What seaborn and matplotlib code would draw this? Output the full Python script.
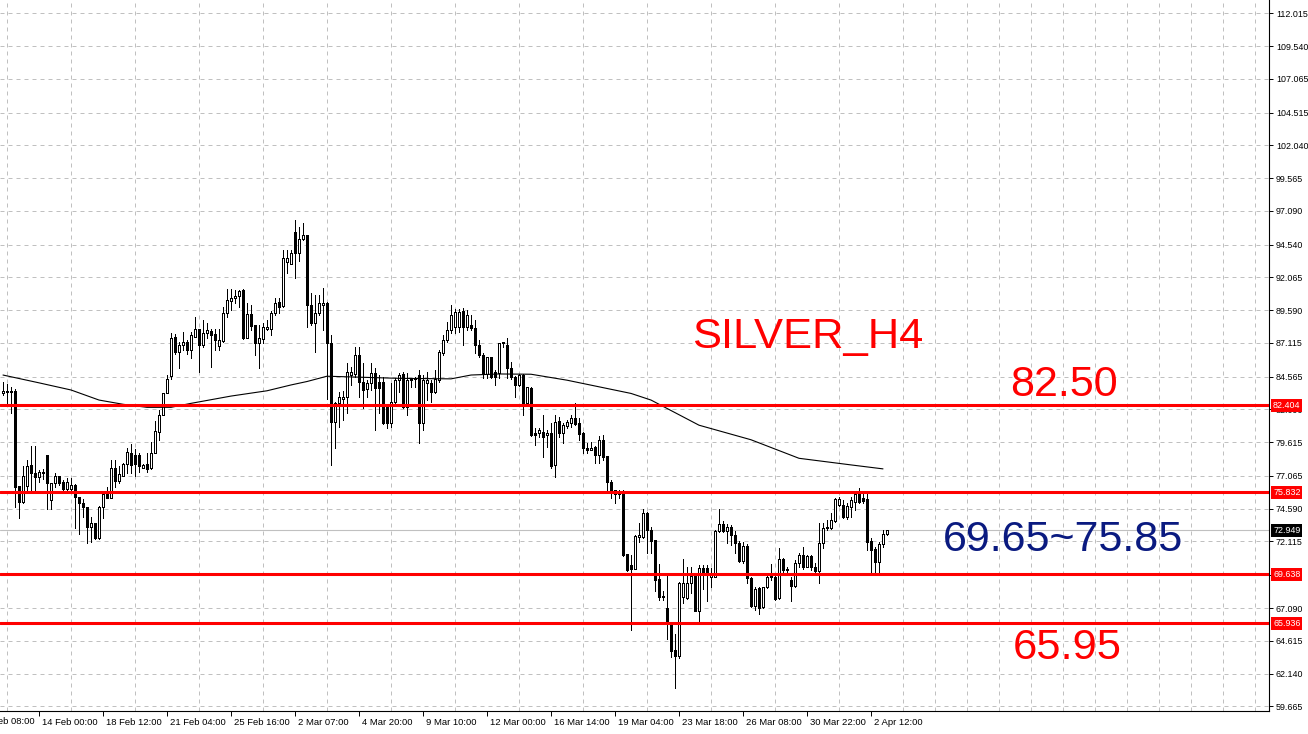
import numpy as np
import pandas as pd
import seaborn as sns
import matplotlib
matplotlib.use("Agg")
import matplotlib.pyplot as plt
import matplotlib.transforms as mtransforms

sns.set_theme(style="white")
plt.rcParams["font.family"] = ["Liberation Sans", "DejaVu Sans"]

# H4 candles, one row per bar (bar 0 = leftmost)
opens = [83.35, 83.5, 83.4, 83.5, 76.3, 75.1, 76.3, 77.9, 77.3, 77.0,
         77.3, 78.65, 75.25, 76.5, 77.1, 76.6, 76.1, 76.1, 76.4, 75.5,
         75.0, 74.75, 73.2, 73.5, 72.35, 74.7, 75.7, 75.4, 77.7, 76.7,
         77.1, 78.0, 78.8, 78.65, 78.65, 77.7, 77.95, 77.65, 78.8, 80.4,
         81.7, 83.3, 84.6, 87.6, 86.4, 86.95, 87.2, 86.6, 87.6, 88.15,
         86.95, 87.85, 88.05, 87.8, 86.9, 87.25, 89.4, 90.3, 90.5, 90.65,
         91.1, 87.5, 89.3, 88.5, 87.1, 87.4, 88.2, 88.2, 89.35, 90.2,
         89.9, 93.2, 93.1, 95.5, 93.9, 95.0, 95.3, 89.98, 88.65, 89.35,
         89.98, 90.1, 87.08, 81.17, 82.55, 82.9, 83.05, 84.7, 84.8, 86.2,
         84.19, 83.6, 84.06, 84.82, 84.2, 84.2, 82.3, 81.04, 82.68, 84.31,
         84.8, 82.3, 84.31, 84.4, 84.69, 81.04, 84.1, 84.06, 83.43, 84.31,
         86.33, 87.33, 88.09, 88.34, 88.34, 89.55, 88.34, 88.47, 88.22, 86.96,
         86.2, 84.77, 86.03, 84.94, 84.87, 87.08, 86.96, 85.2, 84.56, 83.94,
         84.69, 82.55, 83.69, 80.34, 80.29, 80.41, 80.16, 80.34, 77.9, 81.24,
         80.29, 80.85, 81.1, 81.42, 81.04, 80.29, 79.15, 79.03, 79.28, 78.65,
         79.78, 78.57, 76.6, 76.0, 75.7, 75.8, 71.17, 70.34, 70.01, 72.48,
         72.48, 74.24, 72.98, 72.23, 69.31, 67.95, 67.1, 66.06, 63.92, 63.46,
         67.95, 67.82, 68.95, 69.51, 66.89, 70.09, 70.09, 69.46, 69.46, 72.93,
         73.44, 72.93, 73.18, 72.6, 72.03, 70.67, 71.78, 69.33, 67.24, 68.58,
         67.14, 68.65, 69.41, 69.46, 67.82, 70.77, 70.06, 69.21, 68.75, 70.52,
         71.1, 70.22, 71.02, 70.21, 69.91, 71.98, 73.11, 73.11, 73.69, 74.87,
         74.87, 73.99, 74.75, 75.13, 75.7, 75.38, 75.3, 72.18, 71.52, 70.59,
         71.93, 72.68]
highs = [84.2, 84.0, 83.8, 83.6, 76.3, 77.8, 78.3, 79.3, 79.3, 77.5,
         77.6, 78.65, 76.5, 77.3, 77.1, 76.75, 76.9, 76.9, 76.45, 75.5,
         75.35, 74.75, 74.0, 73.5, 74.8, 75.75, 76.25, 78.3, 78.3, 77.8,
         78.05, 79.2, 79.5, 79.1, 78.8, 78.0, 78.8, 79.65, 81.2, 82.05,
         83.35, 84.7, 87.9, 87.8, 87.2, 87.95, 87.3, 87.95, 89.05, 88.2,
         88.85, 88.6, 88.2, 88.2, 88.2, 89.85, 91.2, 91.2, 91.1, 91.15,
         91.2, 90.1, 90.0, 88.5, 88.5, 88.6, 88.85, 89.55, 90.5, 90.5,
         94.13, 94.1, 94.13, 96.4, 95.9, 96.15, 95.3, 90.86, 90.73, 90.73,
         91.3, 90.23, 87.71, 82.68, 83.43, 83.5, 85.57, 85.32, 86.83, 86.83,
         85.57, 84.31, 85.57, 85.2, 84.7, 84.56, 82.3, 84.06, 84.44, 84.82,
         84.9, 84.82, 84.44, 84.56, 85.07, 84.69, 84.94, 84.31, 85.07, 86.58,
         87.71, 88.72, 89.98, 89.65, 89.65, 89.73, 89.6, 89.23, 88.85, 87.33,
         86.33, 86.08, 86.03, 85.07, 87.13, 87.21, 87.46, 85.7, 84.62, 84.77,
         84.77, 83.81, 83.76, 80.66, 80.66, 81.67, 80.54, 81.04, 81.67, 81.54,
         81.04, 81.29, 81.67, 82.55, 81.42, 80.41, 79.53, 79.66, 79.33, 80.08,
         80.16, 78.57, 76.76, 76.0, 76.0, 76.0, 71.17, 71.09, 72.61, 73.49,
         74.54, 74.37, 73.24, 72.23, 70.42, 68.4, 69.58, 66.06, 65.1, 69.08,
         70.77, 70.16, 70.16, 69.51, 70.34, 70.34, 70.34, 70.09, 72.98, 74.54,
         73.69, 73.44, 73.36, 72.93, 72.18, 72.1, 71.93, 69.46, 68.7, 68.7,
         68.7, 69.51, 70.42, 69.58, 71.6, 70.85, 70.16, 69.46, 70.72, 71.27,
         71.73, 71.1, 71.1, 70.52, 73.54, 73.49, 73.74, 74.24, 75.38, 75.5,
         75.25, 75.0, 75.5, 75.88, 76.13, 75.75, 75.7, 72.35, 71.72, 72.1,
         72.98, 73.0]
lows = [83.2, 82.6, 81.8, 74.7, 73.9, 75.0, 75.95, 75.9, 75.9, 76.6,
        76.8, 74.6, 74.6, 76.25, 76.4, 76.0, 76.0, 76.0, 73.1, 72.7,
        74.0, 71.97, 72.1, 72.3, 72.3, 73.9, 75.4, 75.4, 76.2, 76.5,
        77.1, 77.3, 77.3, 77.06, 77.4, 77.7, 77.4, 77.6, 78.8, 79.8,
        81.7, 83.3, 84.4, 86.3, 85.2, 86.6, 86.3, 85.95, 87.6, 84.9,
        86.8, 87.5, 85.3, 86.6, 86.6, 87.2, 89.05, 89.6, 90.1, 89.85,
        87.4, 87.45, 88.1, 86.2, 85.2, 87.1, 88.1, 87.7, 89.2, 89.35,
        89.85, 92.4, 93.05, 92.0, 93.3, 94.9, 88.34, 88.47, 86.45, 89.2,
        88.09, 82.9, 77.89, 79.15, 80.8, 81.3, 81.8, 83.94, 84.57, 83.05,
        82.17, 83.05, 83.56, 80.54, 81.8, 81.0, 80.66, 80.79, 82.55, 83.43,
        82.2, 81.67, 83.8, 83.8, 79.53, 80.54, 82.8, 82.68, 83.3, 84.19,
        86.2, 87.2, 87.84, 87.84, 87.97, 86.96, 88.09, 88.09, 86.33, 86.08,
        84.44, 84.44, 84.44, 83.94, 84.44, 86.83, 84.44, 84.39, 83.05, 83.87,
        81.67, 82.5, 80.1, 79.4, 80.03, 78.52, 79.28, 77.64, 77.01, 80.03,
        79.53, 80.66, 80.79, 80.92, 79.78, 78.77, 78.77, 79.0, 78.07, 78.02,
        78.27, 76.0, 75.4, 75.0, 75.4, 71.02, 69.9, 65.43, 70.01, 72.1,
        72.35, 71.22, 71.27, 68.4, 67.7, 67.7, 64.72, 63.41, 61.02, 63.29,
        67.44, 67.75, 68.2, 66.85, 66.06, 68.5, 67.65, 68.7, 69.41, 72.86,
        72.86, 71.98, 71.85, 71.22, 70.59, 70.52, 69.0, 67.14, 66.94, 66.64,
        67.07, 68.58, 69.2, 67.7, 67.75, 69.71, 69.84, 67.64, 68.7, 70.22,
        70.01, 70.16, 69.96, 69.84, 69.0, 71.6, 72.98, 73.03, 73.61, 74.8,
        73.86, 73.79, 73.99, 74.5, 75.0, 75.0, 71.47, 69.71, 69.76, 69.76,
        71.68, 72.6]
closes = [83.5, 83.4, 83.5, 76.25, 75.1, 77.1, 77.8, 77.3, 77.0, 77.4,
          77.35, 76.5, 76.5, 77.05, 76.55, 76.1, 76.6, 76.4, 75.45, 75.0,
          74.7, 73.2, 73.5, 72.35, 74.75, 75.7, 75.4, 77.65, 76.7, 77.2,
          78.0, 78.9, 77.9, 77.95, 77.8, 77.9, 77.6, 78.8, 80.46, 81.7,
          83.3, 84.4, 87.5, 86.4, 86.95, 87.2, 86.6, 87.7, 88.15, 86.95,
          87.9, 88.1, 87.7, 87.3, 87.3, 89.4, 90.36, 90.5, 90.65, 91.05,
          87.5, 89.3, 88.4, 87.1, 87.5, 88.3, 88.3, 89.35, 90.16, 89.85,
          93.5, 93.5, 93.9, 93.9, 95.0, 95.3, 89.98, 88.65, 89.35, 90.1,
          90.1, 87.08, 81.17, 82.55, 83.05, 83.05, 84.94, 84.94, 86.2, 84.19,
          83.56, 84.06, 84.82, 83.69, 83.69, 81.04, 81.04, 82.68, 84.31, 84.69,
          82.3, 84.3, 84.4, 84.44, 81.04, 84.31, 84.31, 83.43, 84.36, 86.45,
          87.33, 88.09, 89.22, 89.48, 89.48, 88.34, 89.22, 88.22, 86.96, 86.2,
          84.82, 86.03, 84.56, 84.56, 87.08, 87.2, 85.2, 84.56, 83.94, 84.69,
          82.55, 83.76, 80.16, 80.16, 80.54, 80.03, 80.34, 77.82, 81.17, 80.34,
          80.92, 81.17, 81.42, 80.99, 80.24, 79.15, 79.03, 79.15, 78.65, 79.78,
          78.52, 76.63, 76.0, 75.7, 75.85, 71.1, 69.96, 70.01, 72.53, 72.61,
          74.24, 72.98, 72.18, 69.21, 67.9, 68.0, 65.98, 63.87, 63.46, 68.95,
          68.95, 68.95, 69.51, 66.89, 70.09, 69.58, 69.58, 69.66, 72.93, 73.44,
          72.93, 73.18, 72.6, 72.03, 70.67, 71.78, 69.33, 67.24, 68.5, 67.12,
          68.65, 69.46, 69.51, 67.75, 70.77, 69.96, 69.96, 68.75, 70.52, 71.1,
          70.22, 71.02, 70.16, 69.91, 71.98, 73.11, 73.18, 73.74, 75.3, 75.3,
          73.99, 74.8, 75.25, 75.7, 75.13, 75.2, 72.1, 71.47, 70.59, 71.93,
          72.68, 72.95]

# moving average, read at a few bars
ma_idx = [0, 9, 17, 24, 30, 36, 42, 47, 57, 66, 72, 76, 81, 91, 99, 112,
          117, 124, 132, 141, 149, 157, 162, 174, 187, 199, 212, 220]
ma_val = [84.69, 84.1, 83.56, 82.8, 82.48, 82.25, 82.25, 82.55, 83.1, 83.5,
          83.94, 84.2, 84.6, 84.51, 84.44, 84.4, 84.69, 84.77, 84.75, 84.3,
          83.8, 83.3, 82.8, 80.9, 79.8, 78.4, 77.9, 77.6]

levels = [82.404, 75.832, 69.638, 65.936]
last_price = 72.949

price_ticks = [112.015, 109.540, 107.065, 104.515, 102.040, 99.565, 97.090,
               94.540, 92.065, 89.590, 87.115, 84.565, 82.090, 79.615, 77.065,
               74.590, 72.115, 69.565, 67.090, 64.615, 62.140, 59.665]
hidden_ticks = [69.565]  # sits under the 69.638 box
date_labels = ["10 Feb 08:00", "14 Feb 00:00", "18 Feb 12:00", "21 Feb 04:00",
               "25 Feb 16:00", "2 Mar 07:00", "4 Mar 20:00", "9 Mar 10:00",
               "12 Mar 00:00", "16 Mar 14:00", "19 Mar 04:00", "23 Mar 18:00",
               "26 Mar 08:00", "30 Mar 22:00", "2 Apr 12:00"]
date_idx = [-7, 9, 25, 41, 57, 73, 89, 105, 121, 137, 153, 169, 185, 201, 217]
grid_idx = list(range(1, 317, 8))

df = pd.DataFrame({"open": opens, "high": highs, "low": lows, "close": closes})
df["bar"] = np.arange(len(df))
df["up"] = df["close"] >= df["open"]
df["bottom"] = df[["open", "close"]].min(axis=1)
df["body"] = (df["close"] - df["open"]).abs().clip(lower=0.06)

fig = plt.figure(figsize=(13.08, 7.34), dpi=100)
ax = fig.add_axes([0, 23 / 734, 1269 / 1308, 711 / 734])
ax.set_facecolor("white")

# ticks first, limits last (set_xticks would widen the view)
ax.set_yticks(price_ticks)
ax.set_yticklabels(["" if v in hidden_ticks else f"{v:.3f}" for v in price_ticks])
ax.set_xticks(grid_idx, minor=True)
ax.set_xticks(date_idx)
ax.set_xticklabels(date_labels)
ax.grid(which="major", axis="y", color="#c0c0c0", lw=0.72, ls=(0, (4, 4)))
ax.grid(which="minor", axis="x", color="#c0c0c0", lw=0.72, ls=(0, (4, 4)))
ax.grid(which="major", axis="x", visible=False)

ax.axhline(last_price, color="#c0c0c0", lw=0.8, zorder=1)

# candles
ax.vlines(df["bar"], df["low"], df["high"], color="black", lw=0.72,
          antialiased=False, zorder=3)
ax.bar(df["bar"], df["body"], bottom=df["bottom"], width=0.55,
       color=np.where(df["up"], "white", "black"), edgecolor="black",
       lw=0.72, antialiased=False, zorder=4)

sns.lineplot(x=ma_idx, y=ma_val, ax=ax, color="black", lw=0.8, zorder=5)

for lv in levels:
    ax.axhline(lv, color="red", lw=2.2, zorder=6)

ax.set_xlim(-0.75, 316.5)
ax.set_ylim(59.31, 113.02)

# axes styling
for s in ["top", "left"]:
    ax.spines[s].set_visible(False)
for s in ["right", "bottom"]:
    ax.spines[s].set_color("black")
    ax.spines[s].set_linewidth(0.8)
ax.yaxis.tick_right()
ax.tick_params(axis="y", which="major", direction="out", length=3, width=0.7,
               pad=2, labelsize=6.4, colors="black", right=True, left=False)
ax.tick_params(axis="x", which="major", direction="out", length=3.6, width=0.7,
               pad=1.5, labelsize=6.8, colors="black", bottom=True)
ax.tick_params(axis="x", which="minor", length=0)
shift = mtransforms.ScaledTranslation(2 / 72, 0, fig.dpi_scale_trans)
for lab in ax.get_xticklabels():
    lab.set_ha("left")
    lab.set_transform(lab.get_transform() + shift)

# the first date label sits left of the view and is only partly visible
xtrans = ax.get_xaxis_transform()
ax.annotate(date_labels[0], xy=(date_idx[0], 0), xycoords=xtrans,
            xytext=(3, -4.5), textcoords="offset points", ha="left", va="top",
            fontsize=6.8, color="black", annotation_clip=False)

# price boxes on the axis
ytrans = ax.get_yaxis_transform()
for lv in levels:
    ax.annotate(f"{lv:.3f}", xy=(1, lv), xycoords=ytrans, xytext=(4, 0),
                textcoords="offset pixels", ha="left", va="center", fontsize=6.4,
                color="white", annotation_clip=False, zorder=10,
                bbox=dict(boxstyle="square,pad=0.2", fc="red", ec="none"))
ax.annotate(f"{last_price:.3f}", xy=(1, last_price), xycoords=ytrans,
            xytext=(4, 0), textcoords="offset pixels", ha="left", va="center",
            fontsize=6.4, color="white", annotation_clip=False, zorder=10,
            bbox=dict(boxstyle="square,pad=0.2", fc="black", ec="none"))

# chart notes
ax.text(172.3, 86.73, "SILVER_H4", color="red", fontsize=31.3, va="baseline")
ax.text(251.8, 83.11, "82.50", color="red", fontsize=31, va="baseline")
ax.text(235.0, 71.4, "69.65~75.85", color="#0a1a80", fontsize=31, va="baseline")
ax.text(252.5, 63.24, "65.95", color="red", fontsize=31.3, va="baseline")

fig.savefig("out.png", dpi=100, facecolor="white")
